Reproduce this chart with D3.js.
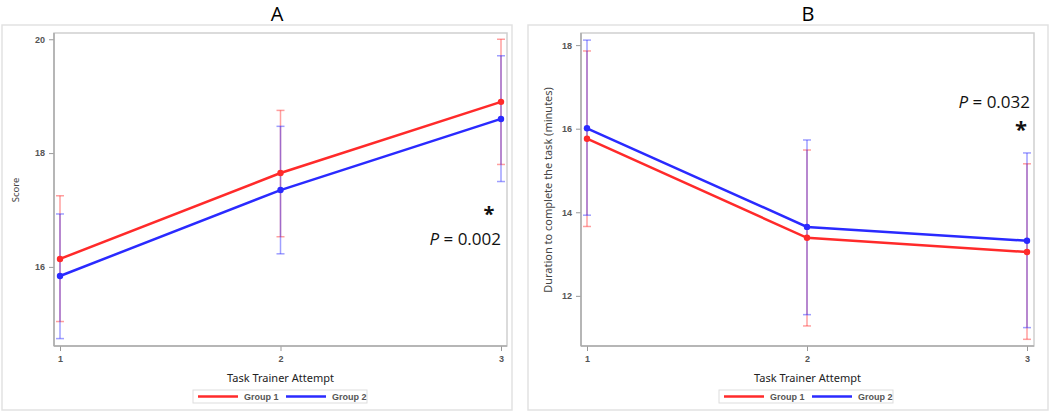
<!DOCTYPE html>
<html><head><meta charset="utf-8">
<script src="https://cdn.jsdelivr.net/npm/d3@7"></script>
<style>body{margin:0;background:#fff}svg{display:block}</style>
</head><body><svg id="c" width="1050" height="413"></svg>
<script>
const attempts = [1, 2, 3];
const groups = ["Group 1", "Group 2"];
// Panel A: Score
const scoreG1 = [16.14, 17.65, 18.9];
const scoreG2 = [15.84, 17.35, 18.6];
const scoreG1Lo = [15.04, 16.53, 17.8];
const scoreG1Hi = [17.25, 18.75, 20.0];
const scoreG2Lo = [14.74, 16.23, 17.5];
const scoreG2Hi = [16.93, 18.47, 19.71];
const scoreTicks = [16, 18, 20];
// Panel B: Duration
const durG1 = [15.76, 13.39, 13.05];
const durG2 = [16.01, 13.65, 13.32];
const durG1Lo = [13.66, 11.28, 10.96];
const durG1Hi = [17.86, 15.49, 15.16];
const durG2Lo = [13.93, 11.55, 11.24];
const durG2Hi = [18.12, 15.73, 15.42];
const durTicks = [12, 14, 16, 18];

const colors = ["#ff2a2a", "#2a2aff"];
const svg = d3.select("#c");

function panel(cfg) {
  const g = svg.append("g");
  g.append("rect").attr("x", cfg.ox).attr("y", 25).attr("width", cfg.ow).attr("height", 385)
    .attr("fill", "none").attr("stroke", "#e2e2e2").attr("stroke-width", 1.5);
  g.append("text").attr("x", cfg.tx).attr("y", 21).attr("text-anchor", "middle")
    .attr("font-family", "Open Sans, sans-serif").attr("font-size", 20).text(cfg.title);
  const x = d3.scaleLinear().domain([1, 3]).range([cfg.x1, cfg.x3]);
  const y = d3.scaleLinear().domain(cfg.yDomain).range([346, 33]);
  g.append("rect").attr("x", cfg.pl).attr("y", 33).attr("width", cfg.pr - cfg.pl).attr("height", 313)
    .attr("fill", "none").attr("stroke", "#cfcfcf").attr("stroke-width", 1.5);
  const ya = g.append("g").attr("transform", `translate(${cfg.pl},0)`)
    .call(d3.axisLeft(y).tickValues(cfg.ticks).tickSize(5).tickPadding(4).tickFormat(d3.format("d")));
  const xa = g.append("g").attr("transform", `translate(0,346)`)
    .call(d3.axisBottom(x).tickValues(attempts).tickSize(5).tickPadding(5).tickFormat(d3.format("d")));
  [ya, xa].forEach(a => {
    a.select(".domain").remove();
    a.selectAll("line").attr("stroke", "#999");
    a.selectAll("text").attr("fill", "#555").attr("font-family", "Liberation Sans, Arial, sans-serif")
      .attr("font-size", 9).attr("font-weight", "bold");
  });
  g.append("line").attr("x1", cfg.pl).attr("x2", cfg.pl).attr("y1", 33).attr("y2", 346).attr("stroke", "#aaa").attr("stroke-width", 1.5);
  g.append("line").attr("x1", cfg.pl).attr("x2", cfg.pr).attr("y1", 346).attr("y2", 346).attr("stroke", "#aaa").attr("stroke-width", 1.5);
  g.append("text").attr("x", (cfg.pl + cfg.pr) / 2).attr("y", 382).attr("text-anchor", "middle")
    .attr("font-family", "Noto Sans, sans-serif").attr("font-size", 11).attr("fill", "#222").text("Task Trainer Attempt");
  g.append("text").attr("transform", `translate(${cfg.ylx},190) rotate(-90)`).attr("text-anchor", "middle")
    .attr("font-family", "Noto Sans, sans-serif").attr("font-size", cfg.ylfs).attr("fill", "#444").text(cfg.ylabel);
  cfg.series.forEach((s, i) => {
    const eb = g.append("g").attr("stroke", colors[i]).attr("stroke-opacity", 0.45).attr("stroke-width", 1.5);
    attempts.forEach((a, j) => {
      const xx = x(a);
      eb.append("line").attr("x1", xx).attr("x2", xx).attr("y1", y(s.lo[j])).attr("y2", y(s.hi[j]));
      [s.lo[j], s.hi[j]].forEach(v => eb.append("line").attr("x1", xx - 4).attr("x2", xx + 4).attr("y1", y(v)).attr("y2", y(v)));
    });
  });
  const line = d3.line().x((d, j) => x(attempts[j])).y(d => y(d));
  cfg.series.forEach((s, i) => {
    g.append("path").datum(s.mean).attr("d", line).attr("fill", "none").attr("stroke", colors[i]).attr("stroke-width", 2.5);
    g.selectAll(null).data(s.mean).enter().append("circle")
      .attr("cx", (d, j) => x(attempts[j])).attr("cy", d => y(d)).attr("r", 3.2).attr("fill", colors[i]);
  });
  const lg = g.append("g");
  lg.append("rect").attr("x", cfg.lx).attr("y", 390).attr("width", 174).attr("height", 13)
    .attr("fill", "#fff").attr("stroke", "#ddd");
  groups.forEach((gr, i) => {
    const bx = cfg.lx + 5 + i * 88;
    lg.append("line").attr("x1", bx).attr("x2", bx + 40).attr("y1", 396.5).attr("y2", 396.5).attr("stroke", colors[i]).attr("stroke-width", 2.5);
    lg.append("text").attr("x", bx + 46).attr("y", 400).attr("font-family", "Liberation Sans, Arial, sans-serif")
      .attr("font-size", 9).attr("font-weight", "bold").attr("fill", "#555").text(gr);
  });
  const an = g.append("g").attr("font-family", "Open Sans, sans-serif").attr("fill", "#111");
  const pt = an.append("text").attr("x", cfg.px).attr("y", cfg.py).attr("text-anchor", "end").attr("font-size", 17);
  pt.append("tspan").attr("font-style", "italic").text("P");
  pt.append("tspan").text(" = " + cfg.pval);
  an.append("text").attr("x", cfg.sx).attr("y", cfg.sy).attr("text-anchor", "middle")
    .attr("font-size", cfg.sfs).attr("font-weight", "bold").text("*");
}

panel({
  title: "A", tx: 277, ox: 2, ow: 510, pl: 54, pr: 507, x1: 60, x3: 501,
  yDomain: [14.61, 20.11], ticks: scoreTicks, ylabel: "Score", ylx: 19, ylfs: 9.5, lx: 193,
  series: [{ mean: scoreG1, lo: scoreG1Lo, hi: scoreG1Hi }, { mean: scoreG2, lo: scoreG2Lo, hi: scoreG2Hi }],
  pval: "0.002", px: 501, py: 245, sx: 489, sy: 221, sfs: 20
});
panel({
  title: "B", tx: 808, ox: 528, ow: 520, pl: 581, pr: 1034, x1: 587, x3: 1027,
  yDomain: [10.8, 18.29], ticks: durTicks, ylabel: "Duration to complete the task (minutes)", ylx: 552, ylfs: 11, lx: 719,
  series: [{ mean: durG1, lo: durG1Lo, hi: durG1Hi }, { mean: durG2, lo: durG2Lo, hi: durG2Hi }],
  pval: "0.032", px: 1030, py: 108, sx: 1021, sy: 137, sfs: 22
});
</script></body></html>
